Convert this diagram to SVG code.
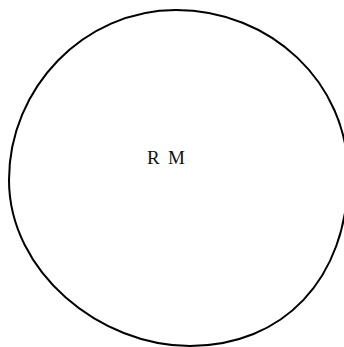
<svg xmlns="http://www.w3.org/2000/svg" width="344" height="347" viewBox="0 0 344 347">
<style>
.outline{fill:none;stroke:#000;stroke-width:2}
.lbl{font-family:"Liberation Serif","Times New Roman",serif;font-size:19px;fill:#111}
</style>
<rect width="344" height="347" fill="#fff"/>
<g id="rm">
<path class="outline" d="M176,10 C270,10 348,82 348,175 C348,280 282,346 190,346 C100,346 9,272 9,180 C9,88 84,10 176,10 Z"/>
<text class="lbl" y="164"><tspan x="147">R</tspan><tspan x="168">M</tspan></text>
</g>
<g id="connectors"/>
</svg>
